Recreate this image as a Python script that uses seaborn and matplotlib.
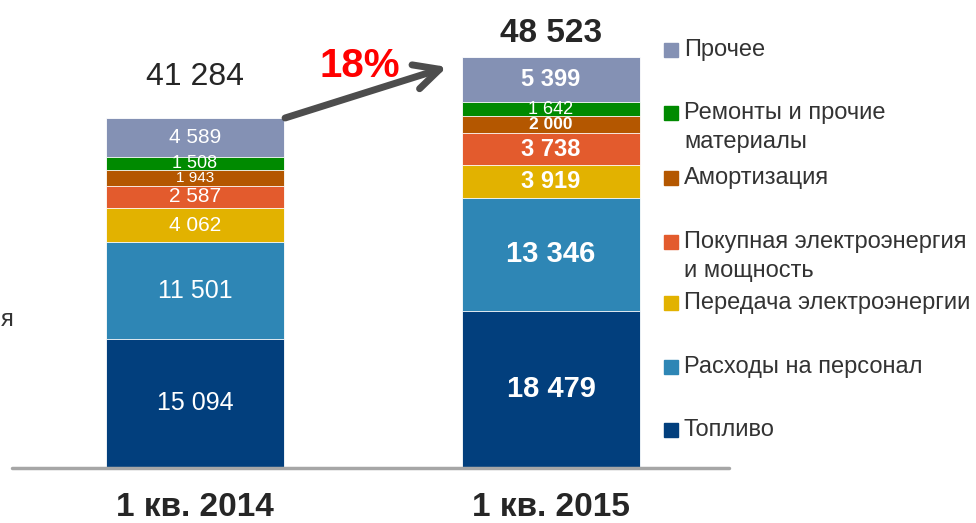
import numpy as np
import pandas as pd
import seaborn as sns
import matplotlib.pyplot as plt
from matplotlib.patches import Rectangle

# ======== data =========
periods = ['1 кв. 2014', '1 кв. 2015']
categories = ['Топливо', 'Расходы на персонал', 'Передача электроэнергии',
              'Покупная электроэнергия\nи мощность', 'Амортизация',
              'Ремонты и прочие\nматериалы', 'Прочее']
v2014 = [15094, 11501, 4062, 2587, 1943, 1508, 4589]
v2015 = [18479, 13346, 3919, 3738, 2000, 1642, 5399]
growth_label = '18%'

# ======== styles =========
colors = ['#023f7d', '#2e86b5', '#e2b200', '#e35b2d', '#b45700', '#008a00', '#8491b4']
size2014 = [18, 18, 15, 15, 11, 13, 15]
size2015 = [21, 21, 17, 17, 12.5, 13, 17]
bold2015 = [True, True, True, True, True, False, True]

sns.set_style('white')
plt.rcParams['font.family'] = ['Liberation Sans', 'DejaVu Sans']

W, H = 976, 523
fig = plt.figure(figsize=(W / 100, H / 100), dpi=100)
ax = fig.add_axes([0, 56 / H, 1, 467 / H])

df = pd.DataFrame({'period': np.repeat(periods, len(categories)),
                   'cat': categories * 2,
                   'value': v2014 + v2015})
df['top'] = df.groupby('period')['value'].cumsum()
df['bottom'] = df['top'] - df['value']
totals = df.groupby('period', sort=False)['value'].sum().tolist()

# stacked bars: draw from top segment down so each lower one covers
for cat, c in list(zip(categories, colors))[::-1]:
    sub = df[df['cat'] == cat]
    sns.barplot(data=sub, x='period', y='top', order=periods, color=c,
                saturation=1, width=0.5, edgecolor='white', linewidth=0.6,
                errorbar=None, ax=ax)

px_per_unit = 349 / totals[0]
ax.set_xlim(-195 / 356, (W - 195) / 356)
ax.set_ylim(0, 467 / px_per_unit)
ax.axis('off')
ax.axhline(-170, xmin=12 / W, xmax=729 / W, color='#a6a6a6', lw=2.5, clip_on=False)

# segment labels
for i, p in enumerate(periods):
    sub = df[df['period'] == p].reset_index(drop=True)
    for j, row in sub.iterrows():
        if i == 0:
            fs, fw = size2014[j], 'normal'
        else:
            fs, fw = size2015[j], 'bold' if bold2015[j] else 'normal'
        ax.text(i, row['bottom'] + row['value'] / 2, f"{row['value']:,}".replace(',', ' '),
                ha='center', va='center', color='white', fontsize=fs, fontweight=fw)

# totals
ax.annotate(f"{totals[0]:,}".replace(',', ' '), xy=(0, totals[0]), xytext=(0, 29.5),
            textcoords='offset points', ha='center', va='center',
            fontsize=23, color='#262626')
ax.annotate(f"{totals[1]:,}".replace(',', ' '), xy=(1, totals[1]), xytext=(0, 17),
            textcoords='offset points', ha='center', va='center',
            fontsize=24, fontweight='bold', color='#262626')

# category labels below
for i, p in enumerate(periods):
    ax.annotate(p, xy=(i, 0), xytext=(0, -29.5), textcoords='offset points',
                ha='center', va='center', fontsize=24, fontweight='bold',
                color='#262626', annotation_clip=False)

# growth arrow
ax.annotate('', xy=(0.708, totals[1] - 1200), xytext=(0.253, totals[0]),
            arrowprops=dict(arrowstyle='->,head_length=0.9,head_width=0.45',
                            lw=5, color='#4d4d4d', shrinkA=0, shrinkB=0,
                            mutation_scale=20))
ax.text(0.463, totals[1] - 1050, growth_label, ha='center', va='center',
        fontsize=29, fontweight='bold', color='#ff0000')

# legend (manual, first line aligned with the square)
leg_y = [430, 367, 303, 242, 178, 113, 50]
for cat, c, y in zip(categories, colors, leg_y):
    fig.patches.append(Rectangle((664 / W, 1 - (y + 7) / H), 14 / W, 14 / H,
                                 transform=fig.transFigure, color=c))
    for k, line in enumerate(cat.split('\n')):
        fig.text(684 / W, 1 - (y + k * 29) / H, line, ha='left', va='center',
                 fontsize=17, color='#333333')

# text fragment at the left edge
fig.text(1 / W, 1 - 320 / H, 'я', ha='left', va='center', fontsize=17, color='#333333')

fig.savefig('out.png', dpi=100)
